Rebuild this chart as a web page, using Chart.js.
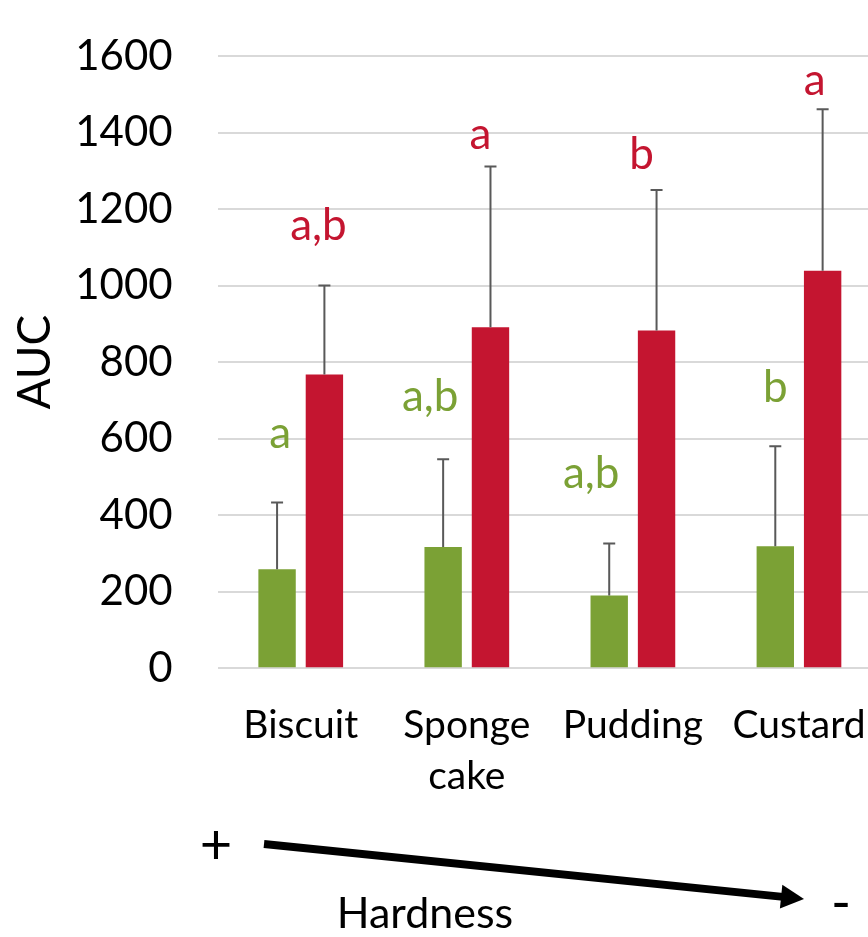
<!DOCTYPE html>
<html>
<head>
<meta charset="utf-8">
<script src="https://cdn.jsdelivr.net/npm/chart.js@4.4.1/dist/chart.umd.min.js"></script>
<style>
  html, body { margin: 0; padding: 0; overflow: hidden; background: #ffffff; }
  #wrap { width: 868px; height: 937px; overflow: hidden; }
</style>
</head>
<body>
<div id="wrap"><canvas id="c" width="882" height="937"></canvas></div>
<script>
// ---- data ----
const categories = [['Biscuit'], ['Sponge', 'cake'], ['Pudding'], ['Custard']];
const greenMean = [259, 317, 190, 319];
const greenSD   = [174, 229, 136, 261];
const redMean   = [768, 891, 883, 1039];
const redSD     = [232, 420, 367, 422];
const greenLetters = ['a', 'a,b', 'a,b', 'b'];
const redLetters   = ['a,b', 'a', 'b', 'a'];
const greenLetterAt = [576, 672, 470, 696];   // baseline, in AUC units
const redLetterAt   = [1119, 1358, 1304, 1499];
const yMin = 0, yMax = 1600, yStep = 200;

// ---- styling / annotation layout ----
const GREEN = '#7ba135';
const RED = '#c41530';
const letterNudge = [[3, -13, -18, 0], [-6, -10, -15, -8]]; // px offsets of letter labels

const errorLetterPlugin = {
  id: 'errLetters',
  afterDatasetsDraw(chart) {
    const ctx = chart.ctx;
    const y = chart.scales.y;
    chart.data.datasets.forEach((ds, di) => {
      const meta = chart.getDatasetMeta(di);
      meta.data.forEach((el, i) => {
        const top = y.getPixelForValue(ds.data[i] + ds.sd[i]);
        ctx.save();
        ctx.strokeStyle = '#595959';
        ctx.lineWidth = 2;
        ctx.beginPath();
        ctx.moveTo(el.x, el.y);
        ctx.lineTo(el.x, top);
        ctx.moveTo(el.x - 6, top);
        ctx.lineTo(el.x + 6, top);
        ctx.stroke();
        ctx.fillStyle = ds.backgroundColor;
        ctx.font = '44px Lato';
        ctx.textAlign = 'center';
        ctx.textBaseline = 'alphabetic';
        ctx.fillText(ds.letters[i], el.x + letterNudge[di][i], y.getPixelForValue(ds.letterAt[i]));
        ctx.restore();
      });
    });
  },
  afterDraw(chart) {
    const ctx = chart.ctx;
    ctx.save();
    ctx.fillStyle = '#000';
    ctx.strokeStyle = '#000';
    // arrow
    const x0 = 264, y0 = 844, x1 = 804, y1 = 899;
    const dx = x1 - x0, dy = y1 - y0, L = Math.hypot(dx, dy);
    const ux = dx / L, uy = dy / L, px = -uy, py = ux;
    const hl = 23, hw = 12;
    const bx = x1 - ux * hl, by = y1 - uy * hl;
    ctx.lineWidth = 8;
    ctx.beginPath();
    ctx.moveTo(x0, y0);
    ctx.lineTo(bx + ux * 2, by + uy * 2);
    ctx.stroke();
    ctx.beginPath();
    ctx.moveTo(x1, y1);
    ctx.lineTo(bx + px * hw, by + py * hw);
    ctx.lineTo(bx - px * hw, by - py * hw);
    ctx.closePath();
    ctx.fill();
    // texts
    ctx.textAlign = 'center';
    ctx.textBaseline = 'middle';
    ctx.font = '56px Lato';
    ctx.fillText('+', 216, 846);
    ctx.textBaseline = 'alphabetic';
    ctx.font = '54px Lato';
    ctx.fillText('-', 841, 921);
    ctx.font = '43px Lato';
    ctx.fillText('Hardness', 425, 928);
    ctx.restore();
  }
};

function make() {
  new Chart(document.getElementById('c'), {
    type: 'bar',
    data: {
      labels: categories,
      datasets: [
        { label: 'Series 1', data: greenMean, sd: greenSD, letters: greenLetters, letterAt: greenLetterAt,
          backgroundColor: GREEN, categoryPercentage: 0.57, barPercentage: 0.79 },
        { label: 'Series 2', data: redMean, sd: redSD, letters: redLetters, letterAt: redLetterAt,
          backgroundColor: RED, categoryPercentage: 0.57, barPercentage: 0.79 }
      ]
    },
    options: {
      responsive: false,
      animation: false,
      layout: { padding: { top: 56, left: 0, right: 0, bottom: 0 } },
      plugins: { legend: { display: false }, tooltip: { enabled: false } },
      scales: {
        x: {
          grid: { display: false, drawTicks: false },
          border: { display: false },
          ticks: { color: '#000', font: { family: 'Lato', size: 39, lineHeight: 1.32 }, padding: 31, maxRotation: 0, autoSkip: false },
          afterFit(s) { s.height = 268.7; s.paddingLeft = 0; s.paddingRight = 0; }
        },
        y: {
          min: yMin, max: yMax,
          grid: { color: '#d9d9d9', lineWidth: 2, drawTicks: false },
          border: { display: false },
          ticks: { stepSize: yStep, color: '#000', font: { family: 'Lato', size: 42 }, padding: 45,
                   callback: (v) => String(v) },
          title: { display: true, text: 'AUC', color: '#000', font: { family: 'Lato', size: 46, lineHeight: 1.2 }, padding: { top: 8, bottom: 0 } },
          afterFit(s) { s.width = 217.7; s.paddingTop = 0; s.paddingBottom = 0; }
        }
      }
    },
    plugins: [errorLetterPlugin]
  });
}

Promise.all([
  document.fonts.load('42px Lato'),
  document.fonts.load('39px Lato'),
  document.fonts.load('44px Lato')
]).then(make, make);
</script>
</body>
</html>
